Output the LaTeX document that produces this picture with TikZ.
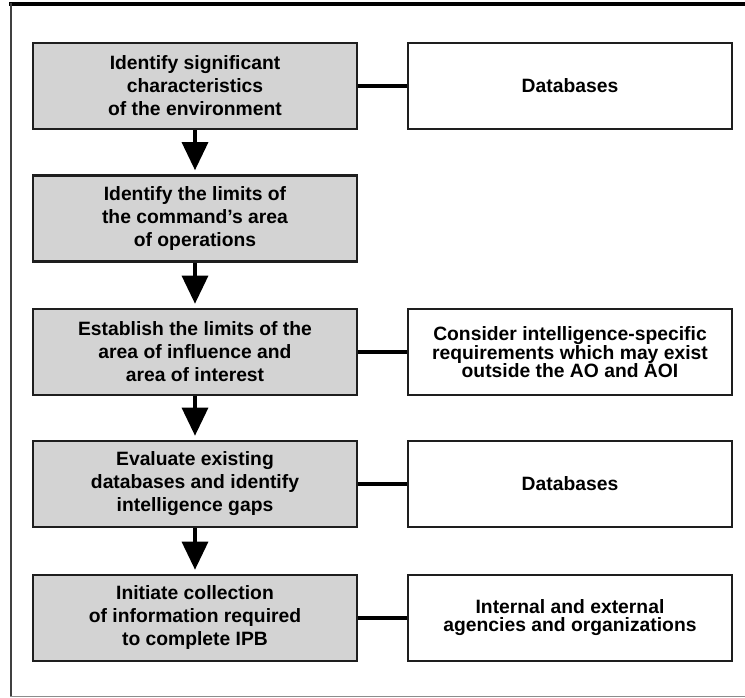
\documentclass[tikz,border=0pt]{standalone}
\usepackage{fontspec}
\setmainfont{Liberation Sans}
\usetikzlibrary{arrows.meta}
\definecolor{boxgray}{HTML}{D3D3D3}
\definecolor{edge}{HTML}{1E1E1E}
\tikzset{
  stepbox/.style={draw=edge, line width=2.6pt, fill=boxgray, minimum width=324pt, minimum height=86pt,
    inner sep=0pt, align=center, font=\bfseries\fontsize{19.3}{23}\selectfont},
  sidebox/.style={draw=edge, line width=2.6pt, fill=white, minimum width=324pt, minimum height=86pt,
    inner sep=0pt, align=center, font=\bfseries\fontsize{19.3}{18}\selectfont},
  conn/.style={line width=3.2pt, black},
  flowarrow/.style={line width=3.2pt, black, shorten >=4pt, -{Triangle[width=26pt,length=28pt]}}
}
\begin{document}
\begin{tikzpicture}[x=1pt,y=-1pt]
\useasboundingbox (0,0) rectangle (745,698);
% frame
\draw[line width=4pt, black] (9,4) -- (745,4);
\draw[line width=2pt, black!75] (11,3) -- (11,697);
\draw[line width=1.5pt, black!45] (10,696.5) -- (745,696.5);
% left steps
\node[stepbox] (l1) at (195,86) {Identify significant\\characteristics\\of the environment};
\node[stepbox] (l2) at (195,218.5) {Identify the limits of\\the command’s area\\of operations};
\node[stepbox] (l3) at (195,352) {Establish the limits of the\\area of influence and\\area of interest};
\node[stepbox] (l4) at (195,484) {Evaluate existing\\databases and identify\\intelligence gaps};
\node[stepbox] (l5) at (195,618) {Initiate collection\\of information required\\to complete IPB};
% right boxes
\node[sidebox] (r1) at (570,86) {Databases};
\node[sidebox] (r3) at (570,352) {Consider intelligence-specific\\requirements which may exist\\outside the AO and AOI};
\node[sidebox] (r4) at (570,484) {Databases};
\node[sidebox] (r5) at (570,618) {Internal and external\\agencies and organizations};
% arrows
\draw[flowarrow] (l1.south) -- (l2.north);
\draw[flowarrow] (l2.south) -- (l3.north);
\draw[flowarrow] (l3.south) -- (l4.north);
\draw[flowarrow] (l4.south) -- (l5.north);
% connectors
\draw[conn] (l1.east) -- (r1.west);
\draw[conn] (l3.east) -- (r3.west);
\draw[conn] (l4.east) -- (r4.west);
\draw[conn] (l5.east) -- (r5.west);
\end{tikzpicture}
\end{document}
